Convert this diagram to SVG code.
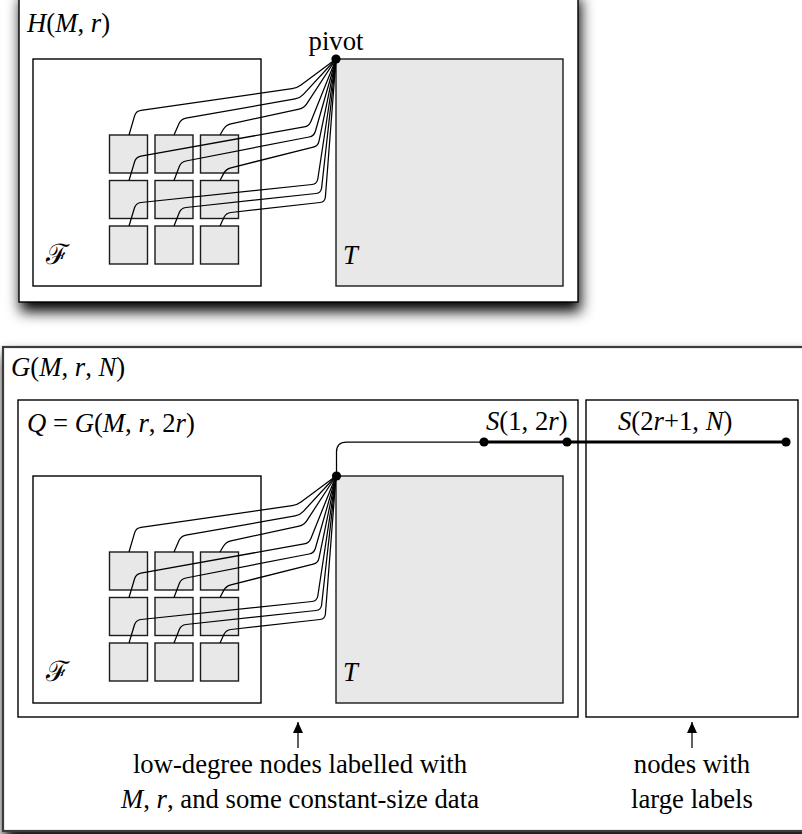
<svg xmlns="http://www.w3.org/2000/svg" width="802" height="834" viewBox="0 0 802 834">
<style>
.box{fill:#fff;stroke:#000;stroke-width:1.4}
.outerG{fill:#fff;stroke:#3a3a3a;stroke-width:2.2}
.gray{fill:#e8e8e8;stroke:#1a1a1a;stroke-width:1.4}
.wire{fill:none;stroke:#000;stroke-width:1.25;stroke-linejoin:round}
.thick{fill:none;stroke:#000;stroke-width:2.8}
.dot{fill:#000}
text{font-family:'Liberation Serif','DejaVu Serif',serif;font-size:26.7px;fill:#000}
.i{font-style:italic}
.cal{font-family:'DejaVu Serif','Liberation Serif',serif;font-size:28px}
</style>
<defs>
<filter id="sh" x="-5%" y="-5%" width="115%" height="125%">
<feDropShadow dx="2" dy="9" stdDeviation="7" flood-color="#000" flood-opacity="1"/>
</filter>
<marker id="arr" markerWidth="14" markerHeight="14" refX="11" refY="5.5" orient="auto" markerUnits="userSpaceOnUse">
<path d="M0,0.5 L11,5.5 L0,10.5 Z" fill="#000"/>
</marker>
</defs>
<rect width="802" height="834" fill="#fff"/>

<!-- Top panel H(M,r) -->
<g id="H">
<rect class="box" x="19" y="-10" width="559" height="312" filter="url(#sh)"/>
<text x="27" y="32"><tspan class="i">H</tspan>(<tspan class="i">M</tspan>, <tspan class="i">r</tspan>)</text>
</g>
<g id="H-F">
<rect class="box" x="33" y="59" width="228" height="227"/>
<text class="cal" x="46" y="264">ℱ</text>
</g>
<g id="H-T">
<rect class="gray" x="336" y="59" width="227" height="227"/>
<text class="i" x="343" y="264">T</text>
</g>
<g id="H-sq11"><rect class="gray" x="109.5" y="135" width="38" height="38"/></g>
<g id="H-sq12"><rect class="gray" x="155" y="135" width="38" height="38"/></g>
<g id="H-sq13"><rect class="gray" x="200.5" y="135" width="38" height="38"/></g>
<g id="H-sq21"><rect class="gray" x="109.5" y="180.5" width="38" height="38"/></g>
<g id="H-sq22"><rect class="gray" x="155" y="180.5" width="38" height="38"/></g>
<g id="H-sq23"><rect class="gray" x="200.5" y="180.5" width="38" height="38"/></g>
<g id="H-sq31"><rect class="gray" x="109.5" y="226" width="38" height="38"/></g>
<g id="H-sq32"><rect class="gray" x="155" y="226" width="38" height="38"/></g>
<g id="H-sq33"><rect class="gray" x="200.5" y="226" width="38" height="38"/></g>
<g id="H-pivot">
<circle class="dot" cx="336" cy="59" r="4.6"/>
<text x="336" y="50" text-anchor="middle">pivot</text>
</g>

<!-- Bottom panel G(M,r,N) -->
<g id="G">
<rect class="outerG" x="3" y="347" width="810" height="484" filter="url(#sh)"/>
<text x="11" y="376"><tspan class="i">G</tspan>(<tspan class="i">M</tspan>, <tspan class="i">r</tspan>, <tspan class="i">N</tspan>)</text>
</g>
<g id="Q">
<rect class="box" x="18" y="400" width="560" height="317"/>
<text x="27" y="432"><tspan class="i">Q</tspan> = <tspan class="i">G</tspan>(<tspan class="i">M</tspan>, <tspan class="i">r</tspan>, 2<tspan class="i">r</tspan>)</text>
</g>
<g id="Large">
<rect class="box" x="586" y="400" width="212" height="317"/>
</g>
<g id="Q-F">
<rect class="box" x="33" y="476" width="228" height="227"/>
<text class="cal" x="46" y="681">ℱ</text>
</g>
<g id="Q-T">
<rect class="gray" x="336" y="476" width="227" height="227"/>
<text class="i" x="343" y="681">T</text>
</g>
<g id="Q-sq11"><rect class="gray" x="109.5" y="552" width="38" height="38"/></g>
<g id="Q-sq12"><rect class="gray" x="155" y="552" width="38" height="38"/></g>
<g id="Q-sq13"><rect class="gray" x="200.5" y="552" width="38" height="38"/></g>
<g id="Q-sq21"><rect class="gray" x="109.5" y="597.5" width="38" height="38"/></g>
<g id="Q-sq22"><rect class="gray" x="155" y="597.5" width="38" height="38"/></g>
<g id="Q-sq23"><rect class="gray" x="200.5" y="597.5" width="38" height="38"/></g>
<g id="Q-sq31"><rect class="gray" x="109.5" y="643" width="38" height="38"/></g>
<g id="Q-sq32"><rect class="gray" x="155" y="643" width="38" height="38"/></g>
<g id="Q-sq33"><rect class="gray" x="200.5" y="643" width="38" height="38"/></g>

<!-- Connectors -->
<g id="connectors">
<g id="fan-top" class="wire">
<path d="M129,135 L134.6,115.8 Q136,111 141,110.3 L292,88.7 Q297,88 301,85 L336,59"/>
<path d="M174,135 L179,123.6 Q181,119 185.9,118.1 L295.1,98.9 Q300,98 303.4,94.3 L336,59"/>
<path d="M220,135 L223.4,129.3 Q226,125 230.9,123.9 L299.1,109.1 Q304,108 306.7,103.8 L336,59"/>
<path d="M129,180.5 L134.6,161.8 Q136,157 140.9,156.1 L304.1,126.9 Q309,126 310.9,121.4 L336,59"/>
<path d="M174,180.5 L179.2,166.7 Q181,162 185.9,161 L309.1,137 Q314,136 315.4,131.2 L336,59"/>
<path d="M220,180.5 L223.7,173.4 Q226,169 230.9,167.8 L313.2,147.2 Q318,146 319,141.1 L336,59"/>
<path d="M129,226 L134.5,207.8 Q136,203 141,202.5 L312,184.5 Q317,184 317.8,179 L336,59"/>
<path d="M174,226 L179.2,212.7 Q181,208 186,207.5 L316,193.5 Q321,193 321.6,188 L336,59"/>
<path d="M220,226 L223.9,217.5 Q226,213 231,212.5 L320,202.5 Q325,202 325.4,197 L336,59"/>
</g>
<g id="fan-bottom" class="wire" transform="translate(0,417)">
<path d="M129,135 L134.6,115.8 Q136,111 141,110.3 L292,88.7 Q297,88 301,85 L336,59"/>
<path d="M174,135 L179,123.6 Q181,119 185.9,118.1 L295.1,98.9 Q300,98 303.4,94.3 L336,59"/>
<path d="M220,135 L223.4,129.3 Q226,125 230.9,123.9 L299.1,109.1 Q304,108 306.7,103.8 L336,59"/>
<path d="M129,180.5 L134.6,161.8 Q136,157 140.9,156.1 L304.1,126.9 Q309,126 310.9,121.4 L336,59"/>
<path d="M174,180.5 L179.2,166.7 Q181,162 185.9,161 L309.1,137 Q314,136 315.4,131.2 L336,59"/>
<path d="M220,180.5 L223.7,173.4 Q226,169 230.9,167.8 L313.2,147.2 Q318,146 319,141.1 L336,59"/>
<path d="M129,226 L134.5,207.8 Q136,203 141,202.5 L312,184.5 Q317,184 317.8,179 L336,59"/>
<path d="M174,226 L179.2,212.7 Q181,208 186,207.5 L316,193.5 Q321,193 321.6,188 L336,59"/>
<path d="M220,226 L223.9,217.5 Q226,213 231,212.5 L320,202.5 Q325,202 325.4,197 L336,59"/>
</g>
<path class="wire" d="M336.5,476 L336.5,452 Q336.5,442 346.5,442 L484,442"/>
<path class="thick" d="M484,442 L786,442"/>
<line class="wire" x1="298" y1="748" x2="298" y2="722" marker-end="url(#arr)"/>
<line class="wire" x1="692" y1="748" x2="692" y2="722" marker-end="url(#arr)"/>
</g>

<g id="Q-pivot"><circle class="dot" cx="336.5" cy="476" r="4.6"/></g>
<g id="S1">
<circle class="dot" cx="484" cy="442" r="4.6"/>
<circle class="dot" cx="567" cy="442" r="4.6"/>
<text x="486" y="430"><tspan class="i">S</tspan>(1, 2<tspan class="i">r</tspan>)</text>
</g>
<g id="S2">
<circle class="dot" cx="786" cy="442" r="4.6"/>
<text x="618" y="430"><tspan class="i">S</tspan>(2<tspan class="i">r</tspan>+1, <tspan class="i">N</tspan>)</text>
</g>

<g id="labels">
<text x="300" y="773" text-anchor="middle">low-degree nodes labelled with</text>
<text x="300" y="808" text-anchor="middle"><tspan class="i">M</tspan>, <tspan class="i">r</tspan>, and some constant-size data</text>
<text x="692" y="773" text-anchor="middle">nodes with</text>
<text x="692" y="808" text-anchor="middle">large labels</text>
</g>
</svg>
